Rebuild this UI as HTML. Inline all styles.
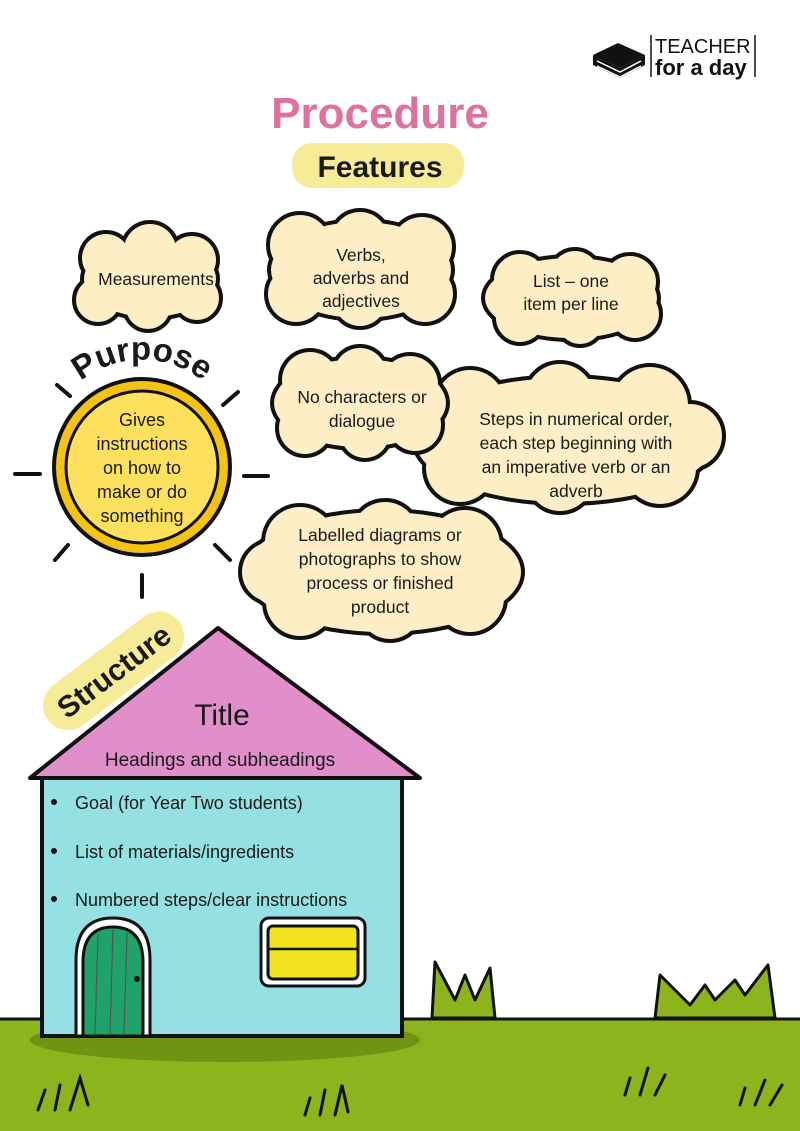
<!DOCTYPE html>
<html><head><meta charset="utf-8"><style>
html,body{margin:0;padding:0;background:#fff}
svg{display:block}
text{font-family:"Liberation Sans",sans-serif;fill:#1a1a1a}
</style></head><body>
<svg width="800" height="1131" viewBox="0 0 800 1131" xmlns="http://www.w3.org/2000/svg">
<defs>
<g id="c1"><ellipse cx="150" cy="279" rx="66" ry="38"/><circle cx="106" cy="258" r="24"/><circle cx="150" cy="250" r="26"/><circle cx="192" cy="260" r="24"/><circle cx="98" cy="300" r="22"/><circle cx="148" cy="307" r="22"/><circle cx="197" cy="298" r="22"/></g>
<g id="c2"><ellipse cx="361" cy="270" rx="90" ry="48"/><circle cx="300" cy="245" r="30"/><circle cx="360" cy="240" r="28"/><circle cx="422" cy="247" r="30"/><circle cx="296" cy="294" r="28"/><circle cx="360" cy="300" r="26"/><circle cx="425" cy="294" r="28"/></g>
<g id="c3"><ellipse cx="571" cy="298" rx="86" ry="40"/><circle cx="520" cy="280" r="26"/><circle cx="575" cy="275" r="24"/><circle cx="630" cy="282" r="26"/><circle cx="520" cy="318" r="24"/><circle cx="580" cy="322" r="22"/><circle cx="635" cy="314" r="24"/></g>
<g id="c4"><ellipse cx="360" cy="403" rx="86" ry="44"/><circle cx="310" cy="380" r="28"/><circle cx="360" cy="374" r="26"/><circle cx="410" cy="384" r="28"/><circle cx="305" cy="428" r="26"/><circle cx="365" cy="434" r="24"/><circle cx="415" cy="425" r="26"/></g>
<g id="c5"><ellipse cx="565" cy="440" rx="150" ry="62"/><circle cx="470" cy="405" r="35"/><circle cx="560" cy="398" r="34"/><circle cx="650" cy="405" r="38"/><circle cx="460" cy="468" r="34"/><circle cx="560" cy="478" r="33"/><circle cx="660" cy="468" r="36"/><circle cx="690" cy="436" r="32"/></g>
<g id="c6"><ellipse cx="383" cy="572" rx="138" ry="60"/><circle cx="300" cy="542" r="35"/><circle cx="385" cy="535" r="33"/><circle cx="465" cy="545" r="35"/><circle cx="300" cy="602" r="34"/><circle cx="390" cy="608" r="31"/><circle cx="470" cy="598" r="34"/><circle cx="272" cy="572" r="30"/></g>
<path id="arc" d="M 48 430 A 98 98 0 0 1 236 430"/>
</defs>

<!-- logo -->
<g transform="translate(593,35)">
<path d="M0 20 L25 8 L52 20 L27 33 Z" fill="#111"/>
<path d="M0 20 L0 30 L27 43 L52 30 L52 20 L27 33 Z" fill="#111"/>
<path d="M4 26 L27 37 L48 26 M4 31 L27 42 L48 31" stroke="#fff" stroke-width="1.5" fill="none"/>
<line x1="58" y1="0" x2="58" y2="42" stroke="#111" stroke-width="1.5"/>
<line x1="162" y1="0" x2="162" y2="42" stroke="#111" stroke-width="1.5"/>
<text x="62" y="18" font-size="20" style="fill:#111">TEACHER</text>
<text x="62" y="40" font-size="22" font-weight="bold" style="fill:#111">for a day</text>
</g>

<text x="380" y="128" font-size="44" font-weight="bold" text-anchor="middle" style="fill:#e0719f">Procedure</text>
<rect x="292" y="143" width="172" height="45" rx="20" fill="#f6eb97"/>
<text x="380" y="177" font-size="30" font-weight="bold" text-anchor="middle">Features</text>

<!-- clouds -->
<use href="#c1" fill="#111" stroke="#111" stroke-width="8"/><use href="#c1" fill="#fdeec6"/>
<use href="#c2" fill="#111" stroke="#111" stroke-width="8"/><use href="#c2" fill="#fdeec6"/>
<use href="#c3" fill="#111" stroke="#111" stroke-width="8"/><use href="#c3" fill="#fdeec6"/>
<use href="#c5" fill="#111" stroke="#111" stroke-width="8"/><use href="#c5" fill="#fdeec6"/>
<use href="#c4" fill="#111" stroke="#111" stroke-width="8"/><use href="#c4" fill="#fdeec6"/>
<use href="#c6" fill="#111" stroke="#111" stroke-width="8"/><use href="#c6" fill="#fdeec6"/>

<g font-size="17.5" text-anchor="middle">
<text x="156" y="285">Measurements</text>
<text x="361" y="261">Verbs,</text><text x="361" y="284">adverbs and</text><text x="361" y="307">adjectives</text>
<text x="571" y="287">List – one</text><text x="571" y="310">item per line</text>
<text x="362" y="403">No characters or</text><text x="362" y="427">dialogue</text>
<text x="576" y="425">Steps in numerical order,</text><text x="576" y="449">each step beginning with</text><text x="576" y="473">an imperative verb or an</text><text x="576" y="497">adverb</text>
<text x="380" y="541">Labelled diagrams or</text><text x="380" y="565">photographs to show</text><text x="380" y="589">process or finished</text><text x="380" y="613">product</text>
</g>

<!-- sun -->
<g stroke="#111" stroke-width="4" stroke-linecap="round">
<line x1="15" y1="474" x2="40" y2="474"/><line x1="244" y1="476" x2="268" y2="476"/>
<line x1="57" y1="385" x2="70" y2="396"/><line x1="238" y1="392" x2="223" y2="405"/>
<line x1="68" y1="545" x2="55" y2="560"/><line x1="215" y1="545" x2="230" y2="560"/>
<line x1="142" y1="575" x2="142" y2="597"/>
</g>
<circle cx="142" cy="467" r="88" fill="#f3c316" stroke="#111" stroke-width="4"/>
<circle cx="142" cy="467" r="76" fill="#fde15e" stroke="#111" stroke-width="3"/>
<g font-size="18" text-anchor="middle">
<text x="142" y="426">Gives</text><text x="142" y="450">instructions</text><text x="142" y="474">on how to</text><text x="142" y="498">make or do</text><text x="142" y="522">something</text>
</g>
<text font-size="33" font-weight="bold"><textPath href="#arc" startOffset="50%" text-anchor="middle">Purpose</textPath></text>

<!-- ground -->
<rect x="0" y="1018" width="800" height="113" fill="#8cb41c"/>
<line x1="0" y1="1019" x2="800" y2="1019" stroke="#111" stroke-width="3"/>
<ellipse cx="225" cy="1040" rx="195" ry="22" fill="#6f9411"/>
<g fill="#8cb41c" stroke="#111" stroke-width="3" stroke-linejoin="round">
<path d="M432 1018 L435 962 L455 1000 L465 975 L475 1000 L490 968 L495 1018 Z"/>
<path d="M655 1018 L660 975 L690 1005 L705 985 L715 1000 L735 980 L745 995 L768 965 L775 1018 Z"/>
</g>
<g fill="none" stroke="#111" stroke-width="3" stroke-linecap="round">
<path d="M38 1110 L45 1090 M55 1110 L60 1085 M70 1110 L80 1078 L88 1105"/>
<path d="M305 1115 L310 1098 M320 1115 L325 1090 M335 1115 L342 1085 L348 1112"/>
<path d="M625 1095 L630 1078 M640 1095 L648 1068 M655 1095 L665 1075"/>
<path d="M740 1105 L745 1088 M755 1105 L765 1080 M770 1105 L782 1085"/>
</g>

<!-- house -->
<rect x="42" y="778" width="360" height="258" fill="#95e0e3" stroke="#111" stroke-width="4"/>
<polygon points="218,628 30,778 420,778" fill="#e08fcb" stroke="#111" stroke-width="4" stroke-linejoin="round"/>
<text x="222" y="725" font-size="30" text-anchor="middle">Title</text>
<text x="220" y="766" font-size="19" text-anchor="middle">Headings and subheadings</text>
<g font-size="18"><circle cx="54" cy="802" r="3" fill="#111"/><text x="75" y="809">Goal (for Year Two students)</text>
<circle cx="54" cy="851" r="3" fill="#111"/><text x="75" y="858">List of materials/ingredients</text>
<circle cx="54" cy="899" r="3" fill="#111"/><text x="75" y="906">Numbered steps/clear instructions</text></g>
<path d="M76 1036 L76 960 Q76 918 113 918 Q150 918 150 960 L150 1036 Z" fill="#fff" stroke="#111" stroke-width="3"/>
<path d="M83 1036 L83 962 Q83 927 113 927 Q143 927 143 962 L143 1036 Z" fill="#1fa36a" stroke="#111" stroke-width="3"/>
<g stroke="#555" stroke-width="1.2"><line x1="98" y1="935" x2="95" y2="1034"/><line x1="113" y1="928" x2="110" y2="1034"/><line x1="127" y1="933" x2="124" y2="1034"/></g>
<circle cx="137" cy="979" r="3" fill="#111"/>
<rect x="261" y="918" width="104" height="68" rx="8" fill="#fff" stroke="#111" stroke-width="3"/>
<rect x="268" y="926" width="90" height="53" rx="5" fill="#f0e21c" stroke="#111" stroke-width="3"/>
<line x1="268" y1="949" x2="358" y2="949" stroke="#111" stroke-width="2.5"/>

<!-- structure label -->
<g transform="translate(113,670) rotate(-37)">
<rect x="-82" y="-24" width="164" height="50" rx="25" fill="#f6eb97"/>
<text x="0" y="12" font-size="30" font-weight="bold" text-anchor="middle">Structure</text>
</g>
</svg>
</body></html>
